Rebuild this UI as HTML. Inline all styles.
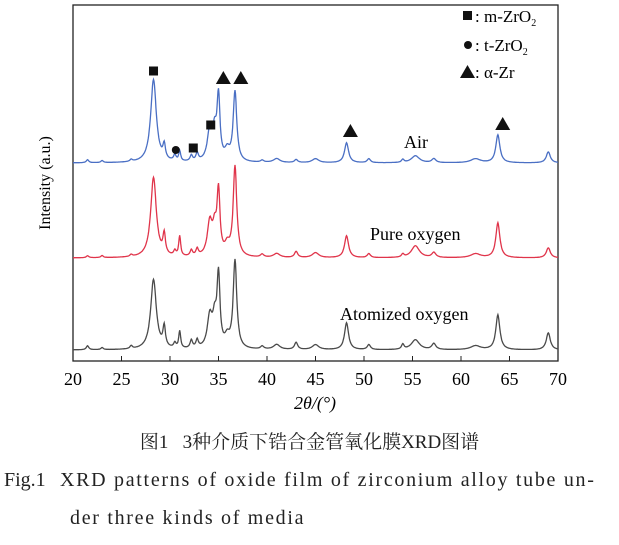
<!DOCTYPE html>
<html><head><meta charset="utf-8"><style>
body{margin:0;background:#fff;width:619px;height:545px;overflow:hidden;font-family:"Liberation Serif","Noto Serif CJK SC",serif}
svg{position:absolute;left:0;top:0}
.cap{position:absolute;font-family:"Liberation Serif","Noto Serif CJK SC",serif;color:#222;white-space:nowrap}
</style></head><body>
<svg width="619" height="545" id="chart">
<rect x="73" y="5" width="485" height="356" fill="none" stroke="#222" stroke-width="1.3"/>
<g id="ticks"></g><g id="series"></g><g id="markers"></g>
<text x="315" y="409" font-size="18" text-anchor="middle" font-family="Liberation Serif" font-style="italic">2θ/(°)</text>
<text transform="translate(50,183) rotate(-90)" font-size="16" text-anchor="middle" font-family="Liberation Serif">Intensity (a.u.)</text>
<text x="404" y="148" font-size="18" font-family="Liberation Serif">Air</text>
<text x="370" y="240" font-size="18" font-family="Liberation Serif">Pure oxygen</text>
<text x="340" y="320" font-size="18" font-family="Liberation Serif">Atomized oxygen</text>
<g font-family="Liberation Serif" font-size="17">
<rect x="463" y="11" width="9" height="9" fill="#111"/>
<text x="475" y="22">: m-ZrO<tspan font-size="10" dy="4">2</tspan></text>
<circle cx="468" cy="45" r="4" fill="#111"/>
<text x="475" y="51">: t-ZrO<tspan font-size="10" dy="4">2</tspan></text>
<polygon points="460,78 475,78 467.5,65" fill="#111"/>
<text x="475" y="78">: α-Zr</text>
</g>
</svg>
<div class="cap" style="left:0;width:619px;top:427px;text-align:center;font-size:19px">图1&nbsp;&nbsp;&nbsp;3种介质下锆合金管氧化膜XRD图谱</div>
<div class="cap" style="left:4px;top:469px;font-size:20px">Fig.1</div>
<div class="cap" style="left:60px;top:469px;font-size:20px;letter-spacing:1.7px">XRD patterns of oxide film of zirconium alloy tube un-</div>
<div class="cap" style="left:70px;top:507px;font-size:20px;letter-spacing:1.7px">der three kinds of media</div>
<script>
const xTicks=[20,25,30,35,40,45,50,55,60,65,70];
const peakPos=[21.5,23,26,28.3,29.4,30.5,31,32.2,32.8,34.1,34.6,35.0,35.9,36.7,39.5,41,43,45,48.2,50.5,54,55.3,57.2,61.5,63.8,69];
const peakWid=[0.15,0.15,0.15,0.35,0.15,0.15,0.12,0.15,0.15,0.3,0.25,0.18,0.3,0.22,0.2,0.4,0.2,0.4,0.25,0.2,0.15,0.5,0.25,0.6,0.25,0.25];
const airH=[3,2,2,83,14,6,10,6,8,30,26,62,10,70,2,4,3,4,20,4,3,7,4,4,28,11];
const pureH=[2,2,2,80,20,5,20,6,7,33,24,62,10,90,3,4,6,5,22,4,3,12,5,4,35,10];
const atomH=[4,2,3,70,20,5,17,8,8,31,26,70,10,88,3,5,7,5,27,5,5,10,6,4,35,17];
const seriesNames=["air","pure-oxygen","atomized-oxygen"];
const baselines=[163,258,350];
const colors=["#4a6fc4","#e0344a","#4a4a4a"];
const markSq=[[28.3,71],[34.2,125],[32.4,148]];
const markCirc=[[30.6,150]];
const markTri=[[35.5,78],[37.3,78],[48.6,131],[64.3,124]];
const NS="http://www.w3.org/2000/svg";
const xs=v=>73+(v-20)*9.7;
const tg=document.getElementById('ticks');
xTicks.forEach(t=>{
 const l=document.createElementNS(NS,'line');
 
 
 l.setAttribute('x1',xs(t));l.setAttribute('x2',xs(t));l.setAttribute('y1',361);l.setAttribute('y2',356);l.setAttribute('stroke','#222');tg.appendChild(l);
 const tx=document.createElementNS(NS,'text');
 
 
 tx.setAttribute('x',xs(t));tx.setAttribute('y',385);tx.setAttribute('font-size','18');tx.setAttribute('text-anchor','middle');tx.setAttribute('font-family','Liberation Serif');tx.textContent=t;tg.appendChild(tx);
});
const sg=document.getElementById('series');
[airH,pureH,atomH].forEach((H,si)=>{
 let d='';
 for(let x=20;x<=70.001;x+=0.05){
  let y=0;
  peakPos.forEach((p,i)=>{const z=(x-p)/peakWid[i];y+=H[i]/(1+z*z);});
  d+=(d?'L':'M')+xs(x).toFixed(1)+','+(baselines[si]-y).toFixed(1);
 }
 const p=document.createElementNS(NS,'path');
 
 
 p.setAttribute('d',d);p.setAttribute('fill','none');p.setAttribute('stroke',colors[si]);p.setAttribute('stroke-width','1.3');sg.appendChild(p);
});
const mg=document.getElementById('markers');
markSq.forEach(m=>{const r=document.createElementNS(NS,'rect');
 
 
 r.setAttribute('x',xs(m[0])-4.5);r.setAttribute('y',m[1]-4.5);r.setAttribute('width',9);r.setAttribute('height',9);r.setAttribute('fill','#111');mg.appendChild(r);});
markCirc.forEach(m=>{const c=document.createElementNS(NS,'circle');
 
 
 c.setAttribute('cx',xs(m[0]));c.setAttribute('cy',m[1]);c.setAttribute('r',4);c.setAttribute('fill','#111');mg.appendChild(c);});
markTri.forEach(m=>{const t=document.createElementNS(NS,'polygon');
 
 
 const x=xs(m[0]);t.setAttribute('points',`${x-7.5},${m[1]+6} ${x+7.5},${m[1]+6} ${x},${m[1]-7}`);t.setAttribute('fill','#111');mg.appendChild(t);});
</script>
</body></html>
